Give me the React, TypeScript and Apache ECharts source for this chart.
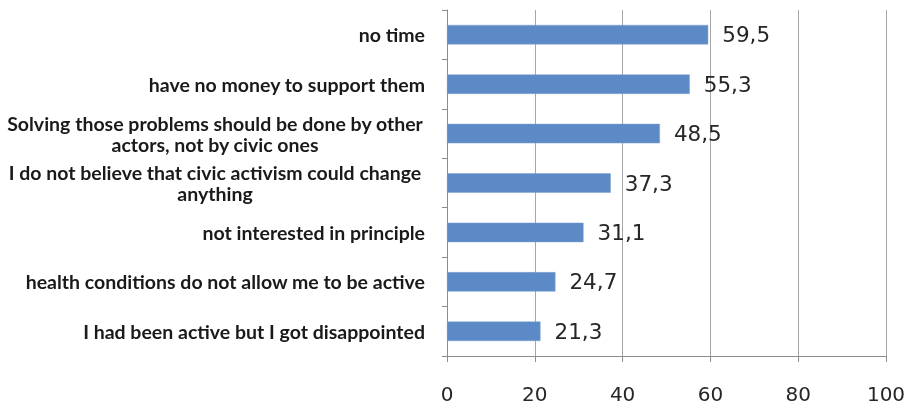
import React, { useEffect, useRef } from "react";
import * as echarts from "echarts";

const categories: string[] = [
  "I had been active but I got disappointed",
  "health conditions do not allow me to be active",
  "not interested in principle",
  "I do not believe that civic activism could change\nanything",
  "Solving those problems should be done by other\nactors, not by civic ones",
  "have no money to support them",
  "no time",
];
const values: number[] = [21.3, 24.7, 31.1, 37.3, 48.5, 55.3, 59.5];
const xTicks = { min: 0, max: 100, interval: 20 };

export default function App() {
  const ref = useRef<HTMLDivElement>(null);
  useEffect(() => {
    if (!ref.current) return;
    const chart = echarts.init(ref.current, undefined, { renderer: "svg" });
    const catFont = "Lato";
    const catSize = 19.5;
    chart.setOption({
      animation: false,
      grid: { left: 447, right: 29, top: 10, bottom: 50, containLabel: false },
      xAxis: {
        type: "value",
        min: xTicks.min,
        max: xTicks.max,
        interval: xTicks.interval,
        axisLine: { show: true, lineStyle: { color: "#8c8c8c", width: 1 } },
        axisTick: { show: true, length: 6, lineStyle: { color: "#8c8c8c" } },
        splitLine: { show: true, lineStyle: { color: "#a6a6a6", width: 1 } },
        axisLabel: {
          margin: 28,
          fontFamily: "DejaVu Sans",
          fontSize: 20,
          color: "#262626",
        },
      },
      yAxis: {
        type: "category",
        data: categories,
        axisLine: { show: true, lineStyle: { color: "#8c8c8c", width: 1 } },
        axisTick: { show: true, length: 5, lineStyle: { color: "#8c8c8c" } },
        axisLabel: {
          margin: 22,
          align: "right",
          formatter: (v: string) =>
            v.includes("\n")
              ? v
                  .split("\n")
                  .map((s) => "{c|" + s + "}")
                  .join("\n")
              : v,
          fontFamily: catFont,
          fontWeight: "bold",
          fontSize: catSize,
          color: "#1a1a1a",
          lineHeight: 21,
          rich: {
            c: {
              width: 420,
              align: "center",
              fontFamily: catFont,
              fontWeight: "bold",
              fontSize: catSize,
              color: "#1a1a1a",
              lineHeight: 21,
            },
          },
        },
      },
      series: [
        {
          type: "bar",
          data: values,
          barWidth: 19.5,
          itemStyle: { color: "#5b8ac6", borderColor: "#7ea3d3", borderWidth: 0.5 },
          label: {
            show: true,
            position: "right",
            distance: 14,
            fontFamily: "DejaVu Sans",
            fontSize: 21.5,
            color: "#262626",
            formatter: (p: any) => String(p.value.toFixed(1)).replace(".", ","),
          },
        },
      ],
    });
    return () => chart.dispose();
  }, []);
  return (
    <div
      ref={ref}
      style={{ width: 915, height: 406, position: "fixed", left: 0, top: 0 }}
    />
  );
}
